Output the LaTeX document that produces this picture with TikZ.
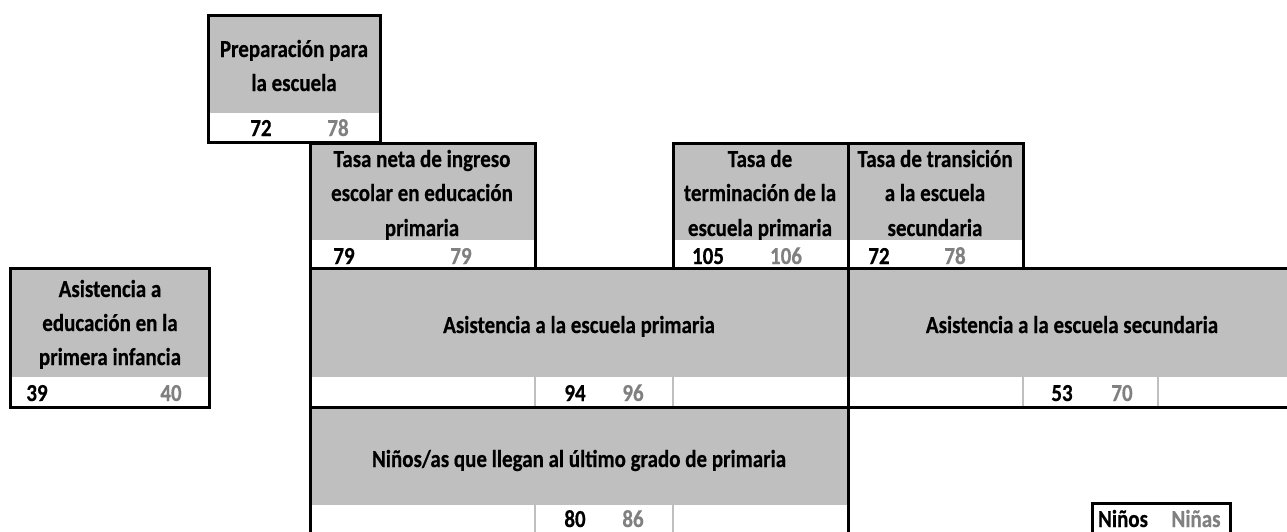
\documentclass[tikz,border=0pt]{standalone}
\usepackage{fontspec}
\setmainfont{Carlito}[UprightFont=*, BoldFont=* Bold, FakeStretch=0.86, BoldFeatures={FakeBold=0.5}]
\usepackage{tikz}
\usetikzlibrary{positioning}
\definecolor{celda}{RGB}{191,191,191}
\definecolor{gris}{RGB}{128,128,128}

\begin{document}
\begin{tikzpicture}[x=1pt,y=-1pt,
    txt/.style={font=\bfseries\fontsize{24.4}{28}\selectfont, inner sep=0pt, anchor=base},
    nino/.style={txt},
    nina/.style={txt, text=gris},
    marco/.style={line width=3pt},
    sepgris/.style={draw=celda, line width=2pt}]
                \useasboundingbox (0,0) rectangle (1287,531);
                \clip (0,0) rectangle (1287,531);
                % gray headers
                \fill[celda] (208,15) rectangle (380,113);
                \fill[celda] (310,143) rectangle (535,240);
                \fill[celda] (673,143) rectangle (848,240);
                \fill[celda] (848,143) rectangle (1023,240);
                \fill[celda] (10,268) rectangle (209,377);
                \fill[celda] (310,268) rectangle (848,377);
                \fill[celda] (848,268) rectangle (1300,377);
                \fill[celda] (310,407) rectangle (848,505);
                % titles
                \node[txt] (prep1) at (294,57) {Preparación para};
                \node[txt] (prep2) at (294,91) {la escuela};
                \node[txt] (neta1) at (422,167) {Tasa neta de ingreso};
                \node[txt] (neta2) at (422,201) {escolar en educación};
                \node[txt] (neta3) at (422,236) {primaria};
                \node[txt] (term1) at (760,167) {Tasa de};
                \node[txt] (term2) at (760,201) {terminación de la};
                \node[txt] (term3) at (760,236) {escuela primaria};
                \node[txt] (trans1) at (935,167) {Tasa de transición};
                \node[txt] (trans2) at (935,201) {a la escuela};
                \node[txt] (trans3) at (935,236) {secundaria};
                \node[txt] (inf1) at (110,297) {Asistencia a};
                \node[txt] (inf2) at (110,331) {educación en la};
                \node[txt] (inf3) at (110,365) {primera infancia};
                \node[txt] (prim) at (579,333) {Asistencia a la escuela primaria};
                \node[txt] (secu) at (1072,333) {Asistencia a la escuela secundaria};
                \node[txt] (ultimo) at (579,467) {Niños/as que llegan al último grado de primaria};
                % white rows for the values
                \fill[white] (310,240) rectangle (535,268);
                \fill[white] (673,240) rectangle (1023,268);
                % value cells
                \draw[sepgris] (535,377) -- (535,407);
                \draw[sepgris] (673,377) -- (673,407);
                \draw[sepgris] (1023,377) -- (1023,407);
                \draw[sepgris] (1158,377) -- (1158,407);
                \draw[sepgris] (535,505) -- (535,545);
                \draw[sepgris] (673,505) -- (673,545);
                % frames
                \draw[marco] (208,15) rectangle (380,142);
                \draw[marco] (310,143) rectangle (535,268);
                \draw[marco] (673,143) rectangle (848,268);
                \draw[marco] (848,143) rectangle (1023,268);
                \draw[marco] (10,268) rectangle (209,407);
                \draw[marco] (310,268) rectangle (848,407);
                \draw[marco] (848,268) rectangle (1300,407);
                \draw[marco] (310,407) rectangle (848,545);
                \draw[marco] (1092,503) rectangle (1230,545);
                % values: boys, girls
                \node[nino] (v72) at (261,136) {72};
                \node[nina] (v78) at (338,136) {78};
                \node[nino] (v79a) at (344,264) {79};
                \node[nina] (v79b) at (461,264) {79};
                \node[nino] (v105) at (708,264) {105};
                \node[nina] (v106) at (786,264) {106};
                \node[nino] (t72) at (879,264) {72};
                \node[nina] (t78) at (955,264) {78};
                \node[nino] (v39) at (37,401) {39};
                \node[nina] (v40) at (171,401) {40};
                \node[nino] (v94) at (575,401) {94};
                \node[nina] (v96) at (633,401) {96};
                \node[nino] (v53) at (1062,401) {53};
                \node[nina] (v70) at (1122,401) {70};
                \node[nino] (v80) at (575,527) {80};
                \node[nina] (v86) at (633,527) {86};
                % legend
                \node[nino] (leyboy) at (1123,527) {Niños};
                \node[nina] (leygirl) at (1196,527) {Niñas};
              \end{tikzpicture}
\end{document}
